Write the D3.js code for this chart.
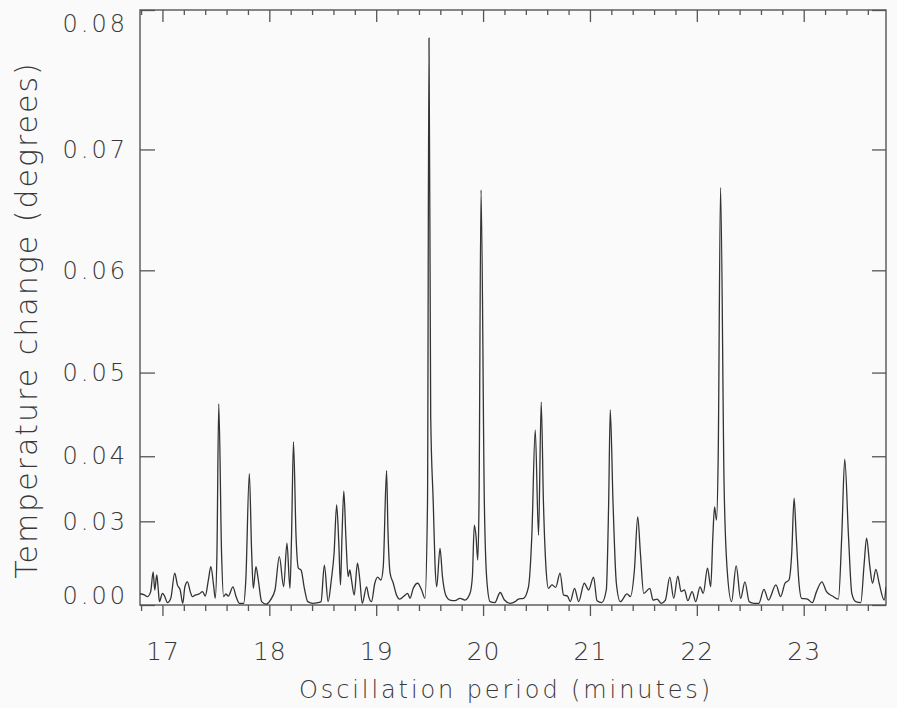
<!DOCTYPE html>
<html>
<head>
<meta charset="utf-8">
<script src="https://cdn.jsdelivr.net/npm/d3@7"></script>
<style>
  body { margin: 0; background: #fafafa; }
  text { font-family: "DejaVu Sans", sans-serif; font-weight: 200; fill: #383838; }
</style>
</head>
<body>
<svg id="chart"></svg>
<script>
// oscillation period (minutes) and temperature change (degrees)
const periods = [
  16.79, 16.83, 16.86, 16.89, 16.913, 16.928, 16.947, 16.96, 16.972, 17.0,
  17.02, 17.047, 17.078, 17.115, 17.14, 17.166, 17.19, 17.21, 17.234, 17.26,
  17.28, 17.31, 17.344, 17.375, 17.40, 17.43, 17.453, 17.478, 17.494, 17.51,
  17.527, 17.553, 17.572, 17.593, 17.616, 17.66, 17.687, 17.72, 17.76, 17.78,
  17.813, 17.834, 17.85, 17.875, 17.897, 17.928, 17.97, 18.01, 18.053, 18.094,
  18.134, 18.165, 18.193, 18.208, 18.226, 18.25, 18.272, 18.297, 18.328, 18.36,
  18.406, 18.453, 18.484, 18.515, 18.55, 18.58, 18.606, 18.63, 18.65, 18.666,
  18.68, 18.697, 18.716, 18.737, 18.753, 18.769, 18.794, 18.825, 18.847, 18.869,
  18.91, 18.93, 18.956, 18.987, 19.013, 19.044, 19.066, 19.097, 19.11, 19.13,
  19.16, 19.19, 19.22, 19.26, 19.294, 19.316, 19.347, 19.388, 19.425, 19.456,
  19.48, 19.494, 19.51, 19.534, 19.55, 19.566, 19.597, 19.62, 19.65, 19.69,
  19.737, 19.784, 19.83, 19.878, 19.9, 19.918, 19.934, 19.95, 19.962, 19.981,
  20.012, 20.035, 20.066, 20.11, 20.16, 20.2, 20.253, 20.3, 20.33, 20.378,
  20.425, 20.456, 20.488, 20.519, 20.544, 20.565, 20.59, 20.612, 20.644, 20.68,
  20.72, 20.753, 20.79, 20.816, 20.856, 20.894, 20.947, 20.987, 21.034, 21.066,
  21.11, 21.153, 21.175, 21.19, 21.216, 21.247, 21.284, 21.347, 21.378, 21.416,
  21.447, 21.472, 21.503, 21.56, 21.59, 21.628, 21.666, 21.706, 21.747, 21.784,
  21.822, 21.853, 21.884, 21.916, 21.956, 21.99, 22.03, 22.06, 22.1, 22.13,
  22.15, 22.166, 22.184, 22.2, 22.222, 22.255, 22.284, 22.325, 22.368, 22.41,
  22.45, 22.49, 22.534, 22.58, 22.628, 22.67, 22.74, 22.784, 22.825, 22.862,
  22.888, 22.91, 22.93, 22.956, 22.98, 23.034, 23.08, 23.12, 23.17, 23.213,
  23.269, 23.325, 23.356, 23.384, 23.419, 23.45, 23.487, 23.534, 23.566, 23.588,
  23.619, 23.644, 23.675, 23.706, 23.753, 23.77
];
const amplitudes = [
  0.011, 0.0104, 0.0095, 0.012, 0.0189, 0.0127, 0.018, 0.0134, 0.006, 0.0112,
  0.0098, 0.005, 0.0085, 0.0185, 0.0147, 0.0127, 0.0043, 0.014, 0.0158, 0.012,
  0.0095, 0.0104, 0.0109, 0.012, 0.0098, 0.0164, 0.0203, 0.0147, 0.0085, 0.0237,
  0.0465, 0.0237, 0.0095, 0.0109, 0.0098, 0.014, 0.0098, 0.0043, 0.0043, 0.0164,
  0.0376, 0.0243, 0.0134, 0.0203, 0.0164, 0.006, 0.003, 0.0073, 0.0127, 0.0228,
  0.014, 0.0258, 0.0134, 0.0272, 0.0419, 0.0272, 0.0199, 0.0194, 0.0134, 0.006,
  0.0043, 0.005, 0.006, 0.0207, 0.006, 0.0164, 0.0236, 0.0328, 0.0258, 0.0147,
  0.0272, 0.035, 0.0272, 0.0175, 0.0194, 0.0164, 0.0104, 0.0212, 0.0164, 0.0043,
  0.014, 0.0095, 0.006, 0.0153, 0.0173, 0.0164, 0.0203, 0.038, 0.0284, 0.0185,
  0.0153, 0.0104, 0.008, 0.0098, 0.0112, 0.0085, 0.0134, 0.0153, 0.0127, 0.0085,
  0.0331, 0.0781, 0.045, 0.0331, 0.0212, 0.014, 0.0247, 0.0175, 0.0104, 0.0073,
  0.0068, 0.0085, 0.0073, 0.0112, 0.0175, 0.0293, 0.0272, 0.022, 0.0331, 0.0668,
  0.0331, 0.0164, 0.006, 0.005, 0.0116, 0.0073, 0.0043, 0.006, 0.008, 0.0085,
  0.014, 0.0272, 0.0434, 0.0274, 0.0467, 0.0331, 0.0194, 0.0134, 0.0147, 0.0138,
  0.0185, 0.0104, 0.0098, 0.006, 0.0134, 0.006, 0.0153, 0.0127, 0.0173, 0.0068,
  0.005, 0.0127, 0.0331, 0.0458, 0.0331, 0.0153, 0.006, 0.0109, 0.0095, 0.0194,
  0.0308, 0.0236, 0.0112, 0.0134, 0.0073, 0.008, 0.0043, 0.0073, 0.0173, 0.0085,
  0.0176, 0.012, 0.0127, 0.0068, 0.012, 0.006, 0.014, 0.0112, 0.0199, 0.014,
  0.0272, 0.0325, 0.0302, 0.04, 0.067, 0.036, 0.0194, 0.006, 0.0205, 0.0085,
  0.0158, 0.006, 0.0043, 0.0043, 0.013, 0.0073, 0.0147, 0.0095, 0.0153, 0.0164,
  0.0236, 0.0339, 0.0272, 0.0153, 0.0085, 0.008, 0.005, 0.012, 0.0158, 0.012,
  0.0098, 0.008, 0.0272, 0.0396, 0.0272, 0.0112, 0.006, 0.005, 0.0212, 0.0268,
  0.0203, 0.0153, 0.0196, 0.0153, 0.0073, 0.014
];
const xTickValues = [17, 18, 19, 20, 21, 22, 23];
const yTickValues = [0, 0.03, 0.04, 0.05, 0.06, 0.07, 0.08];

const width = 897, height = 708;
const plotLeft = 140, plotRight = 886, plotTop = 10, plotBottom = 605;

const svg = d3.select('#chart')
    .attr('width', width)
    .attr('height', height);

const x = d3.scaleLinear().domain([16.79, 23.77]).range([plotLeft, plotRight]);
// the vertical axis is stretched like a square law
const y = d3.scalePow().exponent(2).domain([0, 0.08]).range([plotBottom, plotTop]);

const minorTicks = d3.range(84, 119).map(i => i / 5)
    .filter(d => !Number.isInteger(d) && d >= 16.79 && d <= 23.77);

const stroke = '#555';
const noDomain = g => {
    g.select('.domain').remove();
    g.selectAll('.tick line').attr('stroke', stroke).attr('stroke-width', 1.3);
};

// bottom axis: ticks point outward
svg.append('g')
    .attr('transform', `translate(0,${plotBottom})`)
    .call(d3.axisBottom(x).tickValues(minorTicks).tickSize(6).tickFormat(''))
    .call(noDomain);
svg.append('g')
    .attr('transform', `translate(0,${plotBottom})`)
    .call(d3.axisBottom(x).tickValues(xTickValues).tickSize(11).tickPadding(26).tickFormat(d3.format('d')))
    .call(noDomain)
    .selectAll('text')
    .style('font-size', '25px')
    .style('letter-spacing', '1px');

// top axis: ticks point inward
svg.append('g')
    .attr('transform', `translate(0,${plotTop})`)
    .call(d3.axisTop(x).tickValues(minorTicks).tickSize(-5).tickFormat(''))
    .call(noDomain);
svg.append('g')
    .attr('transform', `translate(0,${plotTop})`)
    .call(d3.axisTop(x).tickValues(xTickValues).tickSize(-12).tickFormat(''))
    .call(noDomain);

// left axis with labels
const yAxis = svg.append('g')
    .attr('transform', `translate(${plotLeft},0)`)
    .call(d3.axisLeft(y).tickValues(yTickValues).tickSize(-15).tickPadding(12).tickFormat(d3.format('.2f')))
    .call(noDomain);
yAxis.selectAll('text')
    .style('font-size', '24px')
    .style('letter-spacing', '3px');
yAxis.selectAll('.tick').filter(d => d === 0).select('text').attr('y', -9);
yAxis.selectAll('.tick').filter(d => d === 0.08).select('text').attr('y', 14);

// right axis
svg.append('g')
    .attr('transform', `translate(${plotRight},0)`)
    .call(d3.axisRight(y).tickValues(yTickValues).tickSize(-14).tickFormat(''))
    .call(noDomain);

// frame
svg.append('rect')
    .attr('x', plotLeft)
    .attr('y', plotTop)
    .attr('width', plotRight - plotLeft)
    .attr('height', plotBottom - plotTop)
    .attr('fill', 'none')
    .attr('stroke', stroke)
    .attr('stroke-width', 1.4);

// spectrum line
svg.append('clipPath').attr('id', 'plot')
    .append('rect')
    .attr('x', plotLeft).attr('y', plotTop)
    .attr('width', plotRight - plotLeft).attr('height', plotBottom - plotTop);

const points = periods.map((p, i) => [p, amplitudes[i]]);
const line = d3.line()
    .x(d => x(d[0]))
    .y(d => y(d[1]))
    .curve(d3.curveMonotoneX);

svg.append('path')
    .datum(points)
    .attr('clip-path', 'url(#plot)')
    .attr('d', line)
    .attr('fill', 'none')
    .attr('stroke', '#333')
    .attr('stroke-width', 1.3)
    .attr('stroke-linejoin', 'round');

// axis titles
svg.append('text')
    .attr('x', 506)
    .attr('y', 698)
    .attr('text-anchor', 'middle')
    .style('font-size', '24px')
    .style('letter-spacing', '2.9px')
    .text('Oscillation period (minutes)');

svg.append('text')
    .attr('transform', 'translate(37,320) rotate(-90)')
    .attr('text-anchor', 'middle')
    .style('font-size', '30px')
    .style('letter-spacing', '2px')
    .text('Temperature change (degrees)');
</script>
</body>
</html>
